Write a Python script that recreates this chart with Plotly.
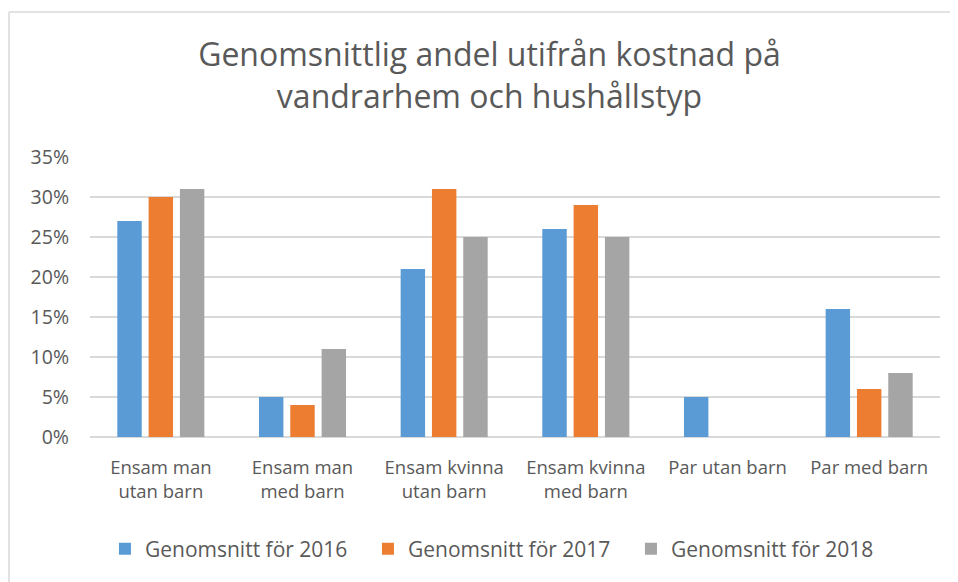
import plotly.graph_objects as go

categories = ["Ensam man<br>utan barn", "Ensam man<br>med barn", "Ensam kvinna<br>utan barn",
              "Ensam kvinna<br>med barn", "Par utan barn", "Par med barn"]
series_names = ["Genomsnitt för 2016", "Genomsnitt för 2017", "Genomsnitt för 2018"]
v2016 = [0.27, 0.05, 0.21, 0.26, 0.05, 0.16]
v2017 = [0.30, 0.04, 0.31, 0.29, None, 0.06]
v2018 = [0.31, 0.11, 0.25, 0.25, None, 0.08]
y_ticks = [0, 0.05, 0.10, 0.15, 0.20, 0.25, 0.30, 0.35]
y_tick_labels = ["0%", "5%", "10%", "15%", "20%", "25%", "30%", "35%"]
colors = ["#5B9BD5", "#ED7D31", "#A5A5A5"]

fig = go.Figure()
for name, vals, col in zip(series_names, [v2016, v2017, v2018], colors):
    fig.add_trace(go.Bar(x=categories, y=vals, name=name, marker_color=col,
                         marker_line_width=0))

FONT = "Open Sans"
fig.update_layout(
    width=958, height=582,
    margin=dict(l=82, r=26, t=149, b=153),
    paper_bgcolor="white", plot_bgcolor="white",
    barmode="group", bargap=0.337, bargroupgap=0.22,
    font=dict(family=FONT, color="#595959", size=16),
    title=dict(text="Genomsnittlig andel utifrån kostnad på<br>vandrarhem och hushållstyp",
               xref="paper", x=0.47, xanchor="center", y=0.9005, yanchor="middle",
               font=dict(family=FONT, size=32, color="#595959")),
    showlegend=True,
    legend=dict(orientation="h", x=0.0176, xanchor="left", y=-0.40, yanchor="middle",
                font=dict(family=FONT, size=21, color="#595959"),
                itemwidth=30, traceorder="normal",
                entrywidth=218, entrywidthmode="pixels"),
    xaxis=dict(showgrid=False, showline=False, ticks="", tickfont=dict(size=18.5),
               ticklabelstandoff=17),
    yaxis=dict(range=[0, 0.35], tickvals=y_ticks, ticktext=y_tick_labels,
               showgrid=True, gridcolor="#D9D9D9", gridwidth=1.5,
               zeroline=True, zerolinecolor="#D9D9D9", zerolinewidth=1.5,
               showline=False, ticks="", tickfont=dict(size=19.5), ticklabelstandoff=20),
    shapes=[
        dict(type="line", xref="paper", yref="paper", x0=-0.0953, x1=1.05, y0=1.518, y1=1.518,
             line=dict(color="#D9D9D9", width=1.5)),
        dict(type="line", xref="paper", yref="paper", x0=-0.0953, x1=-0.0953, y0=-0.6, y1=1.518,
             line=dict(color="#D9D9D9", width=1.5)),
    ],
)

fig.write_html("out.html")
